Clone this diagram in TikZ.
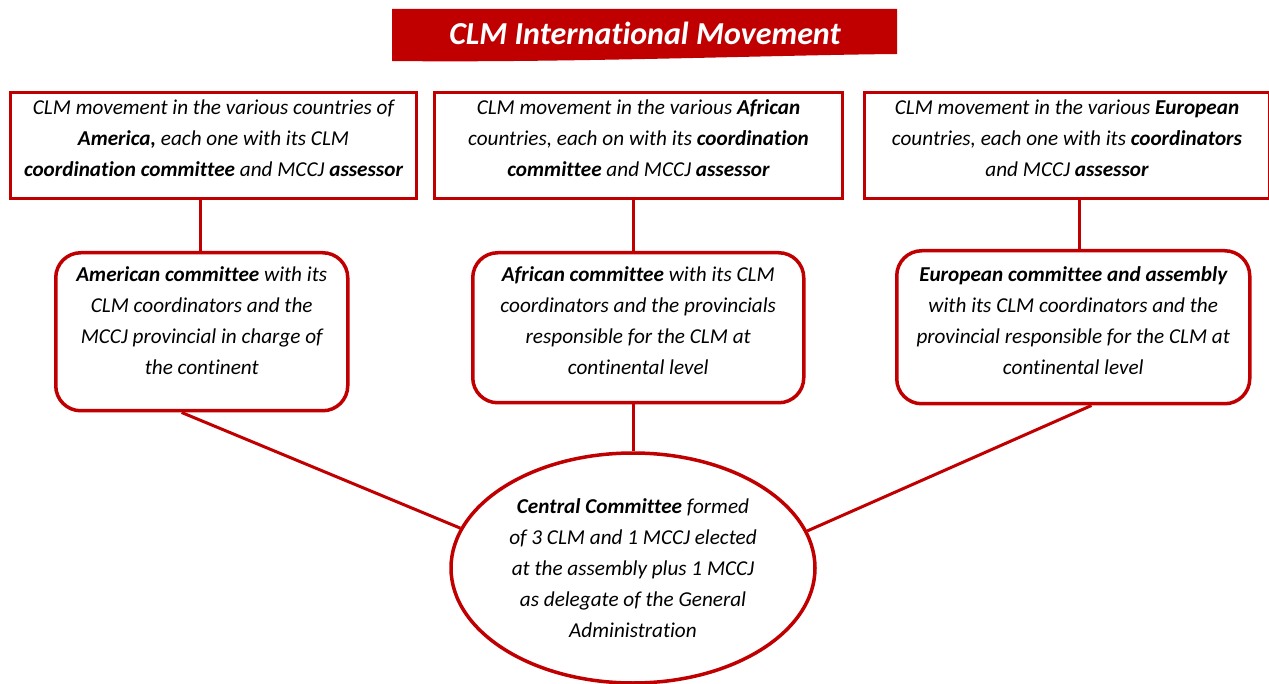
\documentclass[tikz,border=0pt]{standalone}
\usepackage{fontspec}
\setmainfont[Ligatures=NoCommon]{Carlito}
\usetikzlibrary{calc,shapes.geometric}
\definecolor{clmred}{RGB}{192,0,0}
\newcommand{\boxtext}[4]{\parbox[c][#2][t]{#1}{\centering\vspace*{#3}\strut #4}}
\begin{document}
\begin{tikzpicture}[x=1pt,y=-1pt,
  topbox/.style={draw=clmred,line width=3pt,rectangle,inner sep=0pt,anchor=north west,
    font=\fontsize{21.2}{31}\selectfont\itshape},
  combox/.style={draw=clmred,line width=3.5pt,rectangle,rounded corners=25pt,inner sep=0pt,anchor=north west,
    font=\fontsize{21.2}{31}\selectfont\itshape},
  central/.style={draw=clmred,line width=3.5pt,ellipse,inner sep=0pt,minimum width=364pt,minimum height=230pt,
    align=center,font=\fontsize{21.2}{31}\selectfont\itshape},
  link/.style={draw=clmred,line width=3pt}]
\useasboundingbox (0,0) rectangle (1269,684);
% title banner
\fill[clmred] (392,9) -- (897,9) -- (897,54) .. controls (780,55) and (560,63) .. (392,61) -- cycle;
\node[anchor=base,text=white,font=\fontsize{32}{36}\selectfont\bfseries\itshape] (title) at (645,45) {CLM International Movement};
% top boxes
\node[topbox] (t1) at (9,91) {\boxtext{406pt}{106pt}{0pt}{CLM movement in the various countries of\\\textbf{America,} each one with its CLM\\\textbf{coordination committee} and MCCJ \textbf{assessor}}};
\node[topbox] (t2) at (433,91) {\boxtext{408pt}{106pt}{0pt}{CLM movement in the various \textbf{African}\\countries, each on with its \textbf{coordination}\\\textbf{committee} and MCCJ \textbf{assessor}}};
\node[topbox] (t3) at (863,91) {\boxtext{405pt}{106pt}{0pt}{CLM movement in the various \textbf{European}\\countries, each one with its \textbf{coordinators}\\and MCCJ \textbf{assessor}}};
% committees
\node[combox] (A) at (54,251) {\boxtext{292pt}{158pt}{7pt}{\textbf{American committee} with its\\CLM coordinators and the\\MCCJ provincial in charge of\\the continent}};
\node[combox] (B) at (471,251) {\boxtext{331pt}{150pt}{7pt}{\textbf{African committee} with its CLM\\coordinators and the provincials\\responsible for the CLM at\\continental level}};
\node[combox] (C) at (895,249) {\boxtext{353pt}{153pt}{9pt}{\textbf{European committee and assembly}\\with its CLM coordinators and the\\provincial responsible for the CLM at\\continental level}};
% central
\node[central] (E) at (633,568) {\textbf{Central Committee} formed\\of 3 CLM and 1 MCCJ elected\\at the assembly plus 1 MCCJ\\as delegate of the General\\Administration};
% connectors
\coordinate (p1) at (200,0);
\coordinate (p2) at (633,0);
\coordinate (p3) at (1079,0);
\draw[link] (p1 |- t1.south) -- (p1 |- A.north);
\draw[link] (p2 |- t2.south) -- (p2 |- B.north);
\draw[link] (p3 |- t3.south) -- (p3 |- C.north);
\draw[link] ($(A.south west)!0.432!(A.south east)$) -- (E.167.6);
\draw[link] (p2 |- B.south) -- (E.north);
\draw[link] ($(C.south west)!0.551!(C.south east)$) -- (E.12.4);
\end{tikzpicture}
\end{document}
